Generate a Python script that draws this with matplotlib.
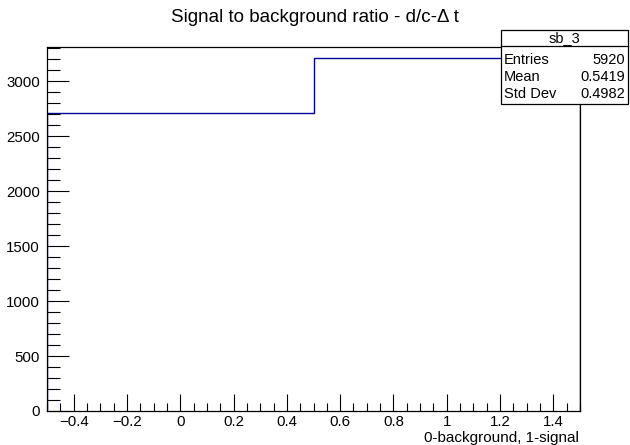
import matplotlib
matplotlib.use("Agg")
import matplotlib.pyplot as plt
from matplotlib.ticker import MultipleLocator
from matplotlib.patches import Rectangle

plt.rcParams['font.family'] = ['Liberation Sans', 'DejaVu Sans']

bin_edges = [-0.5, 0.5, 1.5]
counts = [2712, 3208]
hist_name = "sb_3"
stat_labels = ["Entries", "Mean", "Std Dev"]
stat_values = ["5920", "0.5419", "0.4982"]
title = "Signal to background ratio - d/c-\u0394 t"
xlabel = "0-background, 1-signal"

fig = plt.figure(figsize=(6.30, 4.45), dpi=100)
ax = fig.add_axes([47/630, 1-411/445, (580-47)/630, (411-47)/445])

ax.stairs(counts, bin_edges, color="#000099", linewidth=1.0)
ax.set_xlim(-0.5, 1.5)
ax.set_ylim(0, 3312)

ax.xaxis.set_major_locator(MultipleLocator(0.2))
ax.xaxis.set_minor_locator(MultipleLocator(0.05))
ax.yaxis.set_major_locator(MultipleLocator(500))
ax.yaxis.set_minor_locator(MultipleLocator(100))
ax.tick_params(axis='both', which='both', direction='in', top=False, right=False, labelsize=10.8)
ax.tick_params(axis='x', which='major', length=12, width=0.8, pad=3)
ax.tick_params(axis='x', which='minor', length=6, width=0.8)
ax.tick_params(axis='y', which='major', length=16, width=0.8, pad=5)
ax.tick_params(axis='y', which='minor', length=9, width=0.8)
for s in ax.spines.values():
    s.set_linewidth(0.9)

ax.set_xticks([-0.4, -0.2, 0, 0.2, 0.4, 0.6, 0.8, 1, 1.2, 1.4])
ax.set_xticklabels(["\u22120.4", "\u22120.2", "0", "0.2", "0.4", "0.6", "0.8", "1", "1.2", "1.4"])

fig.text(579/630, 1-438/445, xlabel, ha='right', va='center', fontsize=11)
fig.text(315/630, 1-17/445, title, ha='center', va='center', fontsize=13.5)

# stats box
bx0, bx1, by0, by1 = 501/630, 628/630, 1-104/445, 1-30/445
fig.add_artist(Rectangle((bx0, by0), bx1-bx0, by1-by0, transform=fig.transFigure,
                         facecolor='white', edgecolor='black', linewidth=0.9, zorder=5))
fig.add_artist(plt.Line2D([bx0, bx1], [1-46/445, 1-46/445], transform=fig.transFigure,
                          color='black', linewidth=0.9, zorder=6))
fig.text((bx0+bx1)/2, 1-38/445, hist_name, ha='center', va='center', fontsize=10.5, zorder=7)
rows_y = [60, 77, 94]
for lab, val, yy in zip(stat_labels, stat_values, rows_y):
    fig.text(504/630, 1-yy/445, lab, ha='left', va='center', fontsize=10.5, zorder=7)
    fig.text(625/630, 1-yy/445, val, ha='right', va='center', fontsize=10.5, zorder=7)

fig.savefig("out.png", dpi=100)
